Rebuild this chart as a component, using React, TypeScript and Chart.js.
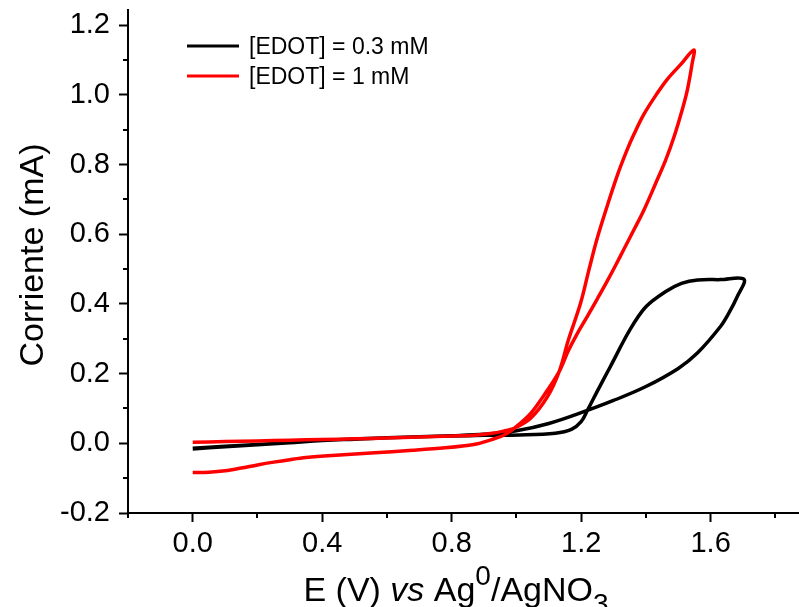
import React, { useEffect, useRef } from "react";
import { Chart, registerables } from "chart.js";

Chart.register(...registerables);

// Axis ticks
const xMajorTicks = [0.0, 0.4, 0.8, 1.2, 1.6];
const xMinorTicks = [-0.2, 0.2, 0.6, 1.0, 1.4, 1.8];
const yMajorTicks = [-0.2, 0.0, 0.2, 0.4, 0.6, 0.8, 1.0, 1.2];
const yMinorTicks = [-0.1, 0.1, 0.3, 0.5, 0.7, 0.9, 1.1];

// Series
const seriesLabels = ["[EDOT] = 0.3 mM", "[EDOT] = 1 mM"];
const seriesColors = ["#000000", "#ff0000"];

// [EDOT] = 0.3 mM : potential (V) and current (mA)
const blackE = [
  0.0, 0.1, 0.2, 0.3, 0.4, 0.5, 0.6, 0.7, 0.8, 0.9,
  1.01, 1.12, 1.17, 1.2, 1.22, 1.25, 1.29, 1.35, 1.4, 1.46, 1.51, 1.56, 1.63, 1.703,
  1.682, 1.657, 1.631, 1.559, 1.5, 1.4, 1.3, 1.2, 1.1, 1.0, 0.9, 0.8, 0.6, 0.4, 0.2, 0.0,
];
const blackI = [
  -0.016, -0.01, -0.004, 0.002, 0.008, 0.012, 0.016, 0.019, 0.021, 0.023,
  0.024, 0.029, 0.04, 0.062, 0.096, 0.15, 0.22, 0.325, 0.392, 0.435, 0.459, 0.469, 0.47, 0.471,
  0.421, 0.375, 0.336, 0.259, 0.215, 0.163, 0.123, 0.088, 0.057, 0.036, 0.026, 0.022, 0.016, 0.008, -0.003, -0.014,
];

// [EDOT] = 1 mM
const redE = [
  0.0, 0.1, 0.2, 0.3, 0.4, 0.5, 0.6, 0.7, 0.8, 0.88, 0.92, 0.96, 0.993,
  1.044, 1.096, 1.132,
  1.16, 1.198, 1.224, 1.25, 1.281, 1.312, 1.34, 1.363, 1.394, 1.435, 1.466, 1.507, 1.548,
  1.543, 1.528, 1.512, 1.487, 1.461, 1.43, 1.394, 1.363, 1.332, 1.307,
  1.28, 1.25, 1.22, 1.188, 1.16, 1.132, 1.096, 1.044, 0.993,
  0.962, 0.921, 0.88, 0.84, 0.78, 0.68, 0.55, 0.43, 0.35, 0.3, 0.25, 0.2, 0.15, 0.1, 0.05, 0.0,
];
const redI = [
  0.003, 0.005, 0.007, 0.009, 0.011, 0.013, 0.015, 0.018, 0.021, 0.024, 0.028, 0.035, 0.043,
  0.072, 0.134, 0.206,
  0.295, 0.402, 0.498, 0.59, 0.683, 0.77, 0.838, 0.887, 0.945, 1.005, 1.045, 1.087, 1.129,
  1.091, 1.014, 0.957, 0.88, 0.813, 0.746, 0.67, 0.613, 0.557, 0.512,
  0.465, 0.415, 0.366, 0.315, 0.265, 0.206, 0.153, 0.086, 0.043,
  0.024, 0.01, -0.001, -0.007, -0.013, -0.02, -0.028, -0.035, -0.041, -0.047, -0.054, -0.062, -0.071, -0.079, -0.083, -0.084,
];

const yTitle = "Corriente (mA)";
const xTitleParts = [
  { text: "E (V) ", kind: "normal" },
  { text: "vs", kind: "italic" },
  { text: " Ag", kind: "normal" },
  { text: "0", kind: "sup" },
  { text: "/AgNO", kind: "normal" },
  { text: "3", kind: "sub" },
];

const FONT = "'Liberation Sans', Arial, Helvetica, sans-serif";

const zip = (xs: number[], ys: number[]) => xs.map((x, i) => ({ x, y: ys[i] }));

const decorPlugin = {
  id: "decor",
  afterDraw(chart: any) {
    const ctx = chart.ctx as CanvasRenderingContext2D;
    const xs = chart.scales.x;
    const ys = chart.scales.y;
    const area = chart.chartArea;
    ctx.save();
    // minor ticks
    ctx.strokeStyle = "#000";
    ctx.lineWidth = 2;
    xMinorTicks.forEach((v) => {
      const px = Math.round(xs.getPixelForValue(v));
      if (px < area.left - 2 || px > area.right + 2) return;
      ctx.beginPath();
      ctx.moveTo(px, area.bottom);
      ctx.lineTo(px, area.bottom + 5);
      ctx.stroke();
    });
    yMinorTicks.forEach((v) => {
      const py = Math.round(ys.getPixelForValue(v));
      ctx.beginPath();
      ctx.moveTo(area.left, py);
      ctx.lineTo(area.left - 5, py);
      ctx.stroke();
    });

    // legend
    const legX0 = 187;
    const legX1 = 239;
    const legY = [46, 76];
    ctx.font = `23px ${FONT}`;
    ctx.textAlign = "left";
    ctx.textBaseline = "alphabetic";
    seriesLabels.forEach((lab, i) => {
      ctx.strokeStyle = seriesColors[i];
      ctx.lineWidth = 3;
      ctx.beginPath();
      ctx.moveTo(legX0, legY[i]);
      ctx.lineTo(legX1, legY[i]);
      ctx.stroke();
      ctx.fillStyle = "#000";
      ctx.fillText(lab, 249, legY[i] + 8.3);
    });

    // y title
    ctx.save();
    ctx.translate(42.5, 255);
    ctx.rotate(-Math.PI / 2);
    ctx.font = `34px ${FONT}`;
    ctx.textAlign = "center";
    ctx.fillStyle = "#000";
    ctx.fillText(yTitle, 0, 0);
    ctx.restore();

    // x title
    const mainSize = 34;
    const smallSize = 28;
    const fontFor = (kind: string) =>
      kind === "italic"
        ? `italic ${mainSize}px ${FONT}`
        : kind === "sup" || kind === "sub"
        ? `${smallSize}px ${FONT}`
        : `${mainSize}px ${FONT}`;
    let total = 0;
    const widths = xTitleParts.map((p) => {
      ctx.font = fontFor(p.kind);
      const w = ctx.measureText(p.text).width;
      total += w;
      return w;
    });
    let cx = 456 - total / 2;
    const base = 601;
    ctx.textAlign = "left";
    ctx.fillStyle = "#000";
    xTitleParts.forEach((p, i) => {
      ctx.font = fontFor(p.kind);
      const dy = p.kind === "sup" ? -16 : p.kind === "sub" ? 12 : 0;
      ctx.fillText(p.text, cx, base + dy);
      cx += widths[i];
    });
    ctx.restore();
  },
};

export default function App() {
  const ref = useRef<HTMLCanvasElement | null>(null);
  useEffect(() => {
    if (!ref.current) return;
    const chart = new Chart(ref.current, {
      type: "scatter",
      data: {
        datasets: [
          {
            label: seriesLabels[0],
            data: zip(blackE, blackI),
            showLine: true,
            borderColor: seriesColors[0],
            backgroundColor: seriesColors[0],
            borderWidth: 3.5,
            pointRadius: 0,
            tension: 0.35,
            order: 2,
          },
          {
            label: seriesLabels[1],
            data: zip(redE, redI),
            showLine: true,
            borderColor: seriesColors[1],
            backgroundColor: seriesColors[1],
            borderWidth: 3.5,
            pointRadius: 0,
            tension: 0.35,
            order: 1,
          },
        ],
      },
      options: {
        animation: false,
        responsive: true,
        maintainAspectRatio: false,
        layout: { padding: { top: 10, left: 0, right: 0, bottom: 0 } },
        plugins: { legend: { display: false }, tooltip: { enabled: false } },
        scales: {
          x: {
            type: "linear",
            min: -0.2,
            max: 1.873,
            afterBuildTicks: (s: any) => {
              s.ticks = xMajorTicks.map((v) => ({ value: v }));
            },
            afterFit: (s: any) => {
              s.height = 94;
              s.paddingLeft = 0;
              s.paddingRight = 0;
              s.paddingTop = 0;
              s.paddingBottom = 0;
            },
            border: { display: true, color: "#000", width: 2 },
            grid: {
              display: true,
              drawOnChartArea: false,
              drawTicks: true,
              tickLength: 9,
              tickWidth: 2,
              tickColor: "#000",
            },
            ticks: {
              autoSkip: false,
              maxRotation: 0,
              padding: 5,
              color: "#000",
              font: { family: FONT, size: 29 },
              callback: (v: any) => Number(v).toFixed(1),
            },
          },
          y: {
            type: "linear",
            min: -0.2,
            max: 1.244,
            afterBuildTicks: (s: any) => {
              s.ticks = yMajorTicks.map((v) => ({ value: v }));
            },
            afterFit: (s: any) => {
              s.width = 128;
              s.paddingLeft = 0;
              s.paddingRight = 0;
              s.paddingTop = 0;
              s.paddingBottom = 0;
            },
            border: { display: true, color: "#000", width: 2 },
            grid: {
              display: true,
              drawOnChartArea: false,
              drawTicks: true,
              tickLength: 9,
              tickWidth: 2,
              tickColor: "#000",
            },
            ticks: {
              autoSkip: false,
              padding: 9,
              color: "#000",
              font: { family: FONT, size: 29 },
              callback: (v: any) => Number(v).toFixed(1),
            },
          },
        },
      },
      plugins: [decorPlugin],
    });
    return () => chart.destroy();
  }, []);
  return (
    <div style={{ position: "absolute", left: 0, top: 0, width: 799, height: 607, background: "#fff" }}>
      <canvas ref={ref} />
    </div>
  );
}
